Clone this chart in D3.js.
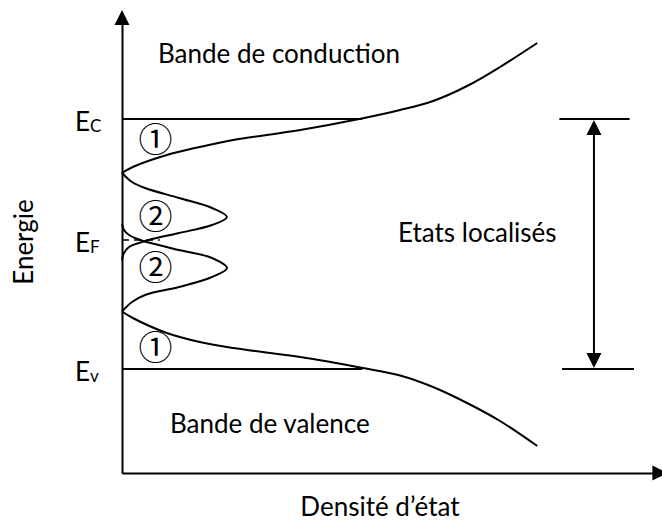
<!DOCTYPE html>
<html>
<head>
<meta charset="utf-8">
<script src="https://cdn.jsdelivr.net/npm/d3@7"></script>
<style>
  body { margin: 0; background: #fff; }
  svg { display: block; }
  text { font-family: Lato, "Open Sans", sans-serif; fill: #000; }
</style>
</head>
<body>
<div id="chart"></div>
<script>
// Data (energy: Ev = 0, Ec = 1 ; density in arbitrary units)
const conductionDensity = [0, 2.0, 8.3, 14.4, 20.6, 33.0, 44.4, 51.5, 57.6, 63.9, 70.0, 76.9];
const conductionEnergy  = [0.784, 0.808, 0.856, 0.888, 0.916, 0.956, 1.002, 1.036, 1.072, 1.132, 1.208, 1.304];

const valenceDensity = [0, 2.0, 8.3, 14.4, 20.6, 33.0, 44.6, 51.5, 57.6, 63.9, 70.0, 76.9];
const valenceEnergy  = [0.23, 0.204, 0.144, 0.108, 0.084, 0.048, 0.004, -0.026, -0.072, -0.136, -0.208, -0.308];

const upperDensity = [0, 1.85, 4.26, 10.56, 16.67, 19.44, 16.67, 10.56, 5.56, 3.70, 1.30, 0.37, 0];
const upperEnergy  = [0.784, 0.748, 0.724, 0.684, 0.644, 0.608, 0.576, 0.544, 0.520, 0.508, 0.488, 0.464, 0.436];

const lowerDensity = [0, 0.37, 1.30, 3.15, 4.26, 10.56, 16.67, 19.44, 16.67, 10.56, 4.26, 1.85, 0];
const lowerEnergy  = [0.580, 0.556, 0.536, 0.518, 0.510, 0.476, 0.444, 0.404, 0.368, 0.328, 0.296, 0.268, 0.23];

const levelSub    = ["C", "F", "v"];
const levelEnergy = [1, 0.516, 0];

const circledLabels = ["\u2460", "\u2461", "\u2461", "\u2460"];
const circledEnergy = [0.916, 0.608, 0.404, 0.084];

// Set dimensions
const width = 662, height = 524;

const x = d3.scaleLinear().domain([0, 100]).range([122, 662]);
const y = d3.scaleLinear().domain([0, 1]).range([369, 119]);

const yBottom = -0.416, yTop = 1.436, xEnd = 101;

const svg = d3.select("#chart")
  .append("svg")
  .attr("width", width)
  .attr("height", height);

const line = d3.line()
  .x(d => x(d[0]))
  .y(d => y(d[1]))
  .curve(d3.curveCatmullRom.alpha(0.5));

function arrowHead(tx, ty, dx, dy) {
  const len = 15, half = 7.5;
  const bx = tx - dx * len, by = ty - dy * len;
  const px = -dy * half, py = dx * half;
  svg.append("path")
    .attr("d", `M${tx},${ty}L${bx + px},${by + py}L${bx - px},${by - py}Z`)
    .attr("fill", "#000");
}

// Axes
svg.append("g")
  .attr("transform", `translate(0,${y(yBottom)})`)
  .call(d3.axisBottom(x).tickValues([]).tickSizeOuter(0))
  .select(".domain").attr("stroke-width", 2);

svg.append("g")
  .attr("transform", `translate(${x(0)},0)`)
  .call(d3.axisLeft(y.copy().domain([yBottom, yTop]).range([y(yBottom), y(yTop) + 10])).tickValues([]).tickSizeOuter(0))
  .select(".domain").attr("stroke-width", 2);

arrowHead(x(0), y(yTop), 0, -1);
arrowHead(x(xEnd), y(yBottom), 1, 0);

// Ec / Ev level lines
svg.append("g").selectAll("line")
  .data([levelEnergy[0], levelEnergy[2]])
  .join("line")
  .attr("x1", x(0))
  .attr("x2", x(44.5))
  .attr("y1", d => y(d))
  .attr("y2", d => y(d))
  .attr("stroke", "#000")
  .attr("stroke-width", 2);

// Fermi level (dashed)
svg.append("line")
  .attr("x1", x(0)).attr("x2", x(7))
  .attr("y1", y(levelEnergy[1])).attr("y2", y(levelEnergy[1]))
  .attr("stroke", "#000")
  .attr("stroke-width", 1.5)
  .attr("stroke-dasharray", "7,5");

// Density of states curves
const curves = [
  [conductionDensity, conductionEnergy],
  [valenceDensity, valenceEnergy],
  [upperDensity, upperEnergy],
  [lowerDensity, lowerEnergy]
];

svg.append("g").selectAll("path")
  .data(curves.map(([ds, es]) => ds.map((d, i) => [d, es[i]])))
  .join("path")
  .attr("d", line)
  .attr("fill", "none")
  .attr("stroke", "#000")
  .attr("stroke-width", 2);

// Level labels
const labels = svg.append("g").selectAll("text")
  .data(levelSub)
  .join("text")
  .attr("x", 75)
  .attr("y", (d, i) => y(levelEnergy[i]) + 12)
  .attr("font-size", 26);
labels.append("tspan").text("E");
labels.append("tspan").attr("font-size", 17).attr("dy", 1).text(d => d);

// Circled numbers
svg.append("g").selectAll("text")
  .data(circledLabels)
  .join("text")
  .attr("x", x(6.2))
  .attr("y", (d, i) => y(circledEnergy[i]))
  .attr("text-anchor", "middle")
  .attr("dominant-baseline", "central")
  .style("font-family", "'DejaVu Serif', 'Noto Sans CJK JP'")
  .attr("font-size", 34)
  .text(d => d);

// Double arrow for localised states
const ax = x(87.4);
svg.append("line")
  .attr("x1", x(81)).attr("x2", x(94))
  .attr("y1", y(1)).attr("y2", y(1))
  .attr("stroke", "#000").attr("stroke-width", 2);
svg.append("line")
  .attr("x1", x(81.5)).attr("x2", x(94.8))
  .attr("y1", y(0)).attr("y2", y(0))
  .attr("stroke", "#000").attr("stroke-width", 2);
svg.append("line")
  .attr("x1", ax).attr("x2", ax)
  .attr("y1", y(1) + 10).attr("y2", y(0) - 10)
  .attr("stroke", "#000").attr("stroke-width", 2);
arrowHead(ax, y(1) + 1, 0, -1);
arrowHead(ax, y(0) - 1, 0, 1);

// Texts
svg.append("text").attr("x", 158).attr("y", 63).attr("font-size", 26).text("Bande de conduction");
svg.append("text").attr("x", 170).attr("y", 433).attr("font-size", 26).text("Bande de valence");
svg.append("text").attr("x", 398).attr("y", 242).attr("font-size", 26).text("Etats localisés");
svg.append("text").attr("x", 380).attr("y", 516).attr("font-size", 26).attr("text-anchor", "middle").text("Densité d\u2019état");
svg.append("text")
  .attr("transform", `translate(33,242) rotate(-90)`)
  .attr("text-anchor", "middle")
  .attr("font-size", 26)
  .text("Energie");
</script>
</body>
</html>
